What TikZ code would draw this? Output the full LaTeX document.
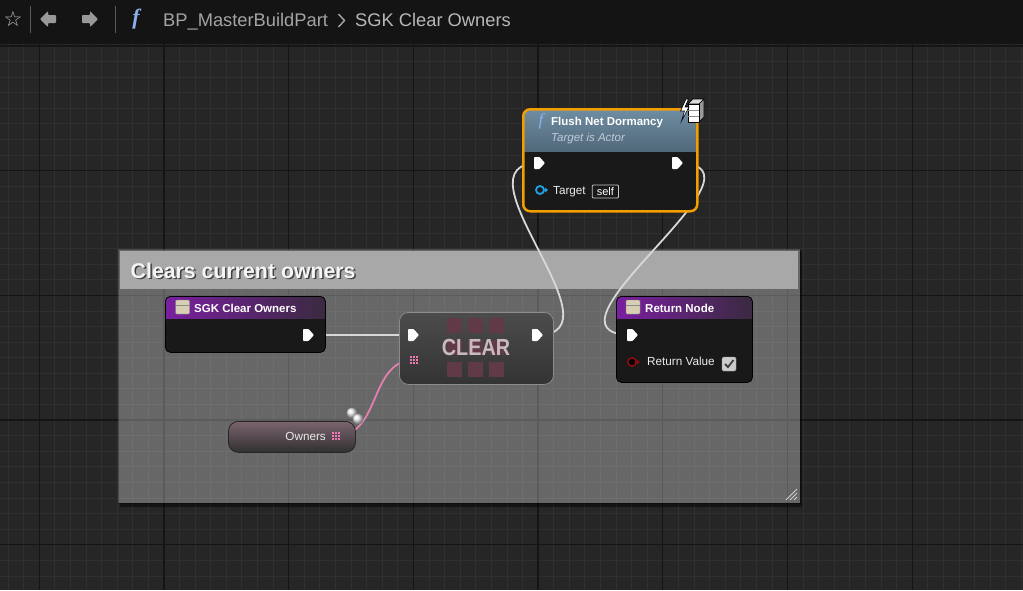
\documentclass[tikz,border=0pt]{standalone}
\usepackage{fontspec}
\setmainfont{Liberation Sans}
\newfontfamily\symfont{DejaVu Sans}
\newfontfamily\fnfont{Liberation Serif}
\usetikzlibrary{positioning}

\definecolor{canvas}{HTML}{262626}
\definecolor{gridminor}{HTML}{303030}
\definecolor{gridmajor}{HTML}{151515}
\definecolor{topbar}{HTML}{141414}
\definecolor{crumbgray}{HTML}{A4A4A4}
\definecolor{commenthead}{HTML}{A8A8A8}
\definecolor{nodebody}{HTML}{191919}
\definecolor{headpurple}{HTML}{7A1FA0}
\definecolor{headdark}{HTML}{3A2A40}
\definecolor{flushorange}{HTML}{F29D00}
\definecolor{flushtop}{HTML}{6F8DA3}
\definecolor{flushbottom}{HTML}{27343E}
\definecolor{clearedge}{HTML}{8C8C8C}
\definecolor{cleartop}{HTML}{4C4C4C}
\definecolor{clearbottom}{HTML}{333333}
\definecolor{clearsquare}{HTML}{603A47}
\definecolor{cleartext}{HTML}{C9BABD}
\definecolor{pinpink}{HTML}{F27AB4}
\definecolor{wirepink}{HTML}{E47FAE}
\definecolor{wirewhite}{HTML}{D8D8D8}
\definecolor{targetblue}{HTML}{1EA2E6}
\definecolor{returnred}{HTML}{8E0B0B}
\definecolor{iconbeige}{HTML}{D6CFB4}
\definecolor{varhigh}{HTML}{7A646E}
\definecolor{varlow}{HTML}{303030}
\definecolor{fnblue}{HTML}{8CB0EE}

\begin{document}
\begin{tikzpicture}[x=1pt, y=-1pt,
  minorline/.style={gridminor, line width=1pt},
  majorline/.style={gridmajor, line width=1.3pt},
  crumb/.style={text=crumbgray, font=\fontsize{18.3}{20}\selectfont, inner sep=0pt, anchor=base west},
  bpnode/.style={draw=black, fill=nodebody, rounded corners=5pt, anchor=north west, inner sep=0pt, line width=0.8pt},
  purplehead/.style={path picture={\shade[sharp corners, left color=headpurple, right color=headdark]
    (path picture bounding box.north west) rectangle ([yshift=-22pt]path picture bounding box.north east);}},
  nodetitle/.style={text=white, font=\bfseries\fontsize{11.5}{13}\selectfont, inner sep=0pt, anchor=base west},
  pinlabel/.style={text=white!92!black, font=\fontsize{11.7}{13}\selectfont, inner sep=0pt, anchor=base west},
  entryicon/.style={fill=iconbeige, draw=black!50, minimum size=14pt, inner sep=0pt, rounded corners=1pt,
    path picture={\draw[black!45] ([yshift=-5pt]path picture bounding box.north west) -- ([yshift=-5pt]path picture bounding box.north east);}},
  commenttitle/.style={font=\bfseries\fontsize{21.3}{23}\selectfont, inner sep=0pt, anchor=base west},
  execwire/.style={wirewhite, line width=1.8pt},
  arraywire/.style={wirepink, line width=1.8pt},
  execpin/.pic={\fill[white, rounded corners=0.8pt] (-5,-6) -- (0.5,-6) -- (6,0) -- (0.5,6) -- (-5,6) -- cycle;},
  arraypin/.pic={\foreach \a in {-4.2,-1.2,1.8} \foreach \b in {-4.2,-1.2,1.8} \fill[pinpink] (\a,\b) rectangle ++(2.4,2.4);}]
\useasboundingbox (0,0) rectangle (1023,590);
\fill[canvas] (0,0) rectangle (1023,590);
% grid
\foreach \i in {-2,...,63} \draw[minorline] ({39.3+15.59*\i},44) -- ({39.3+15.59*\i},590);
\foreach \j in {0,...,35} \draw[minorline] (0,{46+15.59*\j}) -- (1023,{46+15.59*\j});
\foreach \i in {0,...,7} \draw[majorline] ({39.3+124.7*\i},44) -- ({39.3+124.7*\i},590);
\foreach \j in {0,...,4} \draw[majorline] (0,{46+124.7*\j}) -- (1023,{46+124.7*\j});

% top bar
\fill[topbar] (0,0) rectangle (1023,44);
\node[text=white!75!black, font=\symfont\fontsize{21}{21}\selectfont, inner sep=0pt] (fav-star) at (13,19) {☆};
\draw[white!35!black, line width=1pt] (30,6) -- (30,33) (115,6) -- (115,33);
\fill[white!60!black, rounded corners=0.8pt] (40,19) -- (48,11) -- (48,15) -- (56,15) -- (56,23) -- (48,23) -- (48,27) -- cycle;
\fill[white!60!black, rounded corners=0.8pt] (98,19) -- (90,11) -- (90,15) -- (82,15) -- (82,23) -- (90,23) -- (90,27) -- cycle;
\node[text=fnblue, font=\fnfont\itshape\bfseries\fontsize{22}{22}\selectfont, inner sep=0pt] (crumb-fn) at (136,19) {f};
\node[crumb] (crumb-bp) at (163,26) {BP\_MasterBuildPart};
\draw[crumbgray, line width=1.4pt] (338.5,14) -- (344.5,20.5) -- (338.5,27);
\node[crumb, text=white!72!black] (crumb-fnname) at (355,26) {SGK Clear Owners};

% comment box
\fill[black, opacity=0.45] (120,503) rectangle (802,507) (800,251) rectangle (802,503);
\fill[white, opacity=0.3] (118,249) rectangle (800,503);
\draw[black, opacity=0.3] (118,249) rectangle (800,503);
\fill[commenthead] (120,251) rectangle (798,289);
\node[commenttitle, text=black!75] (comment-shade) at (132,279.8) {Clears current owners};
\node[commenttitle, text=white!96!black] (comment-title) at (130.5,278.3) {Clears current owners};
\foreach \k in {0,4,8} \draw[white!80!black, line width=0.8pt] ({786+\k},500) -- (797,{489+\k});

% pins
\coordinate (sgk-out) at (308,335);
\coordinate (clr-in) at (413,335);
\coordinate (clr-out) at (537,335);
\coordinate (clr-arr) at (414,360);
\coordinate (own-pin) at (336,436);
\coordinate (flush-in) at (539,163);
\coordinate (flush-out) at (677,163);
\coordinate (flush-target) at (540,190);
\coordinate (ret-in) at (632,335);
\coordinate (ret-value) at (632,362);

% wires
\draw[execwire] (sgk-out) -- (clr-in);
\draw[execwire] (clr-out) .. controls +(90,0) and +(-90,0) .. (flush-in);
\draw[execwire] (flush-out) .. controls +(110,0) and +(-110,0) .. (ret-in);
\draw[arraywire] (own-pin) .. controls +(45,0) and +(-45,0) .. (clr-arr);

% SGK Clear Owners
\node[bpnode, purplehead, minimum width=160pt, minimum height=56pt] (sgk) at (165,296) {};
\node[entryicon] (sgk-icon) at (182.5,307) {};
\node[nodetitle] (sgk-title) at (194,312) {SGK Clear Owners};
\pic at (sgk-out) {execpin};

% CLEAR
\node[bpnode, draw=clearedge, top color=cleartop, bottom color=clearbottom, rounded corners=9pt, minimum width=154pt, minimum height=72pt] (clr) at (399,312) {};
\foreach \c in {0,1,2} \foreach \r in {0,1,2} \fill[clearsquare] ({447+21*\c},{318+22*\r}) rectangle ++(15,15);
\node[text=cleartext, font=\bfseries\fontsize{23.3}{24}\selectfont, xscale=0.85, inner sep=0pt, anchor=base] (clr-label) at (476,355) {CLEAR};
\pic at (clr-in) {execpin};
\pic at (clr-out) {execpin};
\pic at (clr-arr) {arraypin};

% Owners
\node[bpnode, draw=black!85, top color=varhigh, bottom color=varlow, rounded corners=10pt, minimum width=127pt, minimum height=31pt] (own) at (228,421) {};
\node[pinlabel, anchor=base east] (own-label) at (326,440.5) {Owners};
\pic at (own-pin) {arraypin};
\shade[ball color=white!85!gray] (352,413) circle (5.5);
\shade[ball color=white!85!gray] (358,419) circle (5.5);

% Return Node
\node[bpnode, purplehead, minimum width=136pt, minimum height=86pt] (ret) at (616,296) {};
\node[entryicon] (ret-icon) at (633,307) {};
\node[nodetitle] (ret-title) at (645,312) {Return Node};
\pic at (ret-in) {execpin};
\draw[returnred, fill=black, line width=1.6pt] (ret-value) circle (4.2);
\fill[returnred] ([xshift=5pt]ret-value) ++(0,-2.5) -- ++(3,2.5) -- ++(-3,2.5) -- cycle;
\node[pinlabel] (ret-label) at (647,365.5) {Return Value};
\node[fill=white!80!black, draw=white!60!black, rounded corners=1.5pt, minimum size=14pt, inner sep=0pt] (ret-check) at (729,364) {};
\draw[black!75, line width=1.8pt] ([xshift=-4pt]ret-check.center) -- ++(3,3) -- ++(5.5,-7);

% Flush Net Dormancy
\node[bpnode, draw=flushorange, line width=2.5pt, rounded corners=7pt, minimum width=174pt, minimum height=102pt,
  path picture={\shade[sharp corners, top color=flushtop, bottom color=flushbottom]
    (path picture bounding box.north west) rectangle ([yshift=-42pt]path picture bounding box.north east);}] (flush) at (522,108) {};
\node[text=fnblue, font=\fnfont\itshape\fontsize{17}{17}\selectfont, inner sep=0pt] (flush-fn) at (541,121) {f};
\node[nodetitle] (flush-title) at (551,125) {Flush Net Dormancy};
\node[text=white!55!flushtop, font=\itshape\fontsize{11.5}{13}\selectfont, inner sep=0pt, anchor=base west] (flush-sub) at (551,141.5) {Target is Actor};
\pic at (flush-in) {execpin};
\pic at (flush-out) {execpin};
\draw[targetblue, line width=1.8pt] (flush-target) circle (4);
\fill[targetblue] ([xshift=5pt]flush-target) ++(0,-2.5) -- ++(3,2.5) -- ++(-3,2.5) -- cycle;
\node[pinlabel] (flush-tgt-label) at (553,194.3) {Target};
\node[draw=white!78!black, line width=0.8pt, rounded corners=1pt, text=white, font=\fontsize{11}{12}\selectfont,
  inner xsep=4.5pt, inner ysep=2.5pt, right=6pt of flush-tgt-label.east, anchor=west] (flush-self) {self};
% network icon
\fill[white!85!black, draw=black, line width=0.6pt] (688,104) -- (693,99) -- (704,99) -- (699,104) -- cycle;
\fill[white!60!black, draw=black, line width=0.6pt] (699,104) -- (704,99) -- (704,117) -- (699,122) -- cycle;
\fill[white, draw=black, line width=0.6pt] (688,104) rectangle (699,122);
\draw[black!45, line width=0.5pt] (688,110) -- (699,110) (688,116) -- (699,116);
\fill[white, draw=black, line width=0.6pt] (686,99) -- (680.5,111) -- (684.5,111) -- (681.5,121) -- (689,107) -- (685,107) -- (688.5,99) -- cycle;
\end{tikzpicture}
\end{document}
